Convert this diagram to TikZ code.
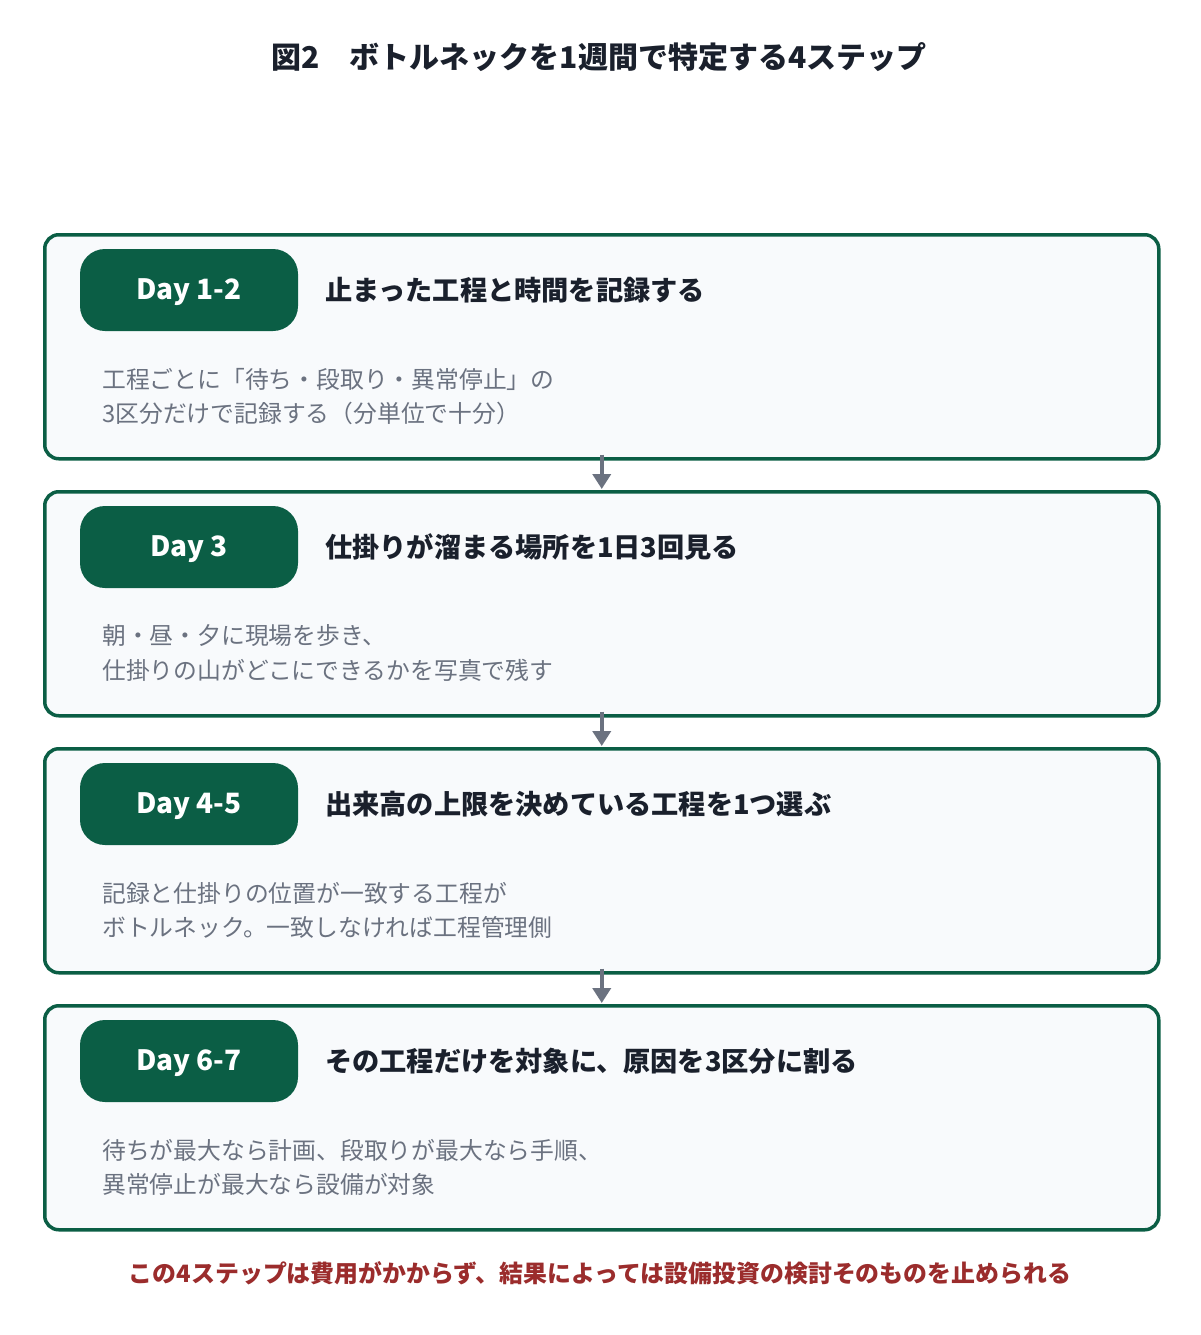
\documentclass[tikz,border=0pt]{standalone}
\usepackage{fontspec}
\setmainfont{Noto Sans CJK JP}
\usetikzlibrary{arrows.meta}
\definecolor{grn}{HTML}{0B5E45}
\definecolor{boxfill}{HTML}{F8FAFC}
\definecolor{bodygray}{HTML}{6B7280}
\definecolor{titledark}{HTML}{1A202C}
\definecolor{footred}{HTML}{9B2C2C}
\tikzset{
  stepbox/.style={draw=grn, line width=3.5pt, fill=boxfill, rounded corners=14pt,
    minimum width=1114pt, minimum height=224pt, inner sep=0pt, anchor=north west},
  daypill/.style={fill=grn, rounded corners=25pt, minimum width=218pt, minimum height=82pt,
    inner sep=0pt, text=white, font=\fontsize{28}{32}\selectfont\bfseries},
  daylabel/.style={inner sep=0pt, text=white, font=\fontsize{28}{32}\selectfont\bfseries},
  steptitle/.style={anchor=west, inner sep=0pt, text=titledark, font=\fontsize{27.2}{32}\selectfont\bfseries},
  bodytext/.style={anchor=west, inner sep=0pt, text=bodygray, font=\fontsize{23.8}{28}\selectfont},
  flowarrow/.style={draw=bodygray, line width=4pt, -{Triangle[length=15pt,width=18pt]}},
}
\begin{document}
\begin{tikzpicture}[x=1pt,y=-1pt]
\useasboundingbox[fill=white] (0,0) rectangle (1200,1335);
\node[inner sep=0pt, text=titledark, font=\fontsize{30}{34}\selectfont\bfseries] (maintitle) at (599,57) {図2　ボトルネックを1週間で特定する4ステップ};
\foreach \i/\t/\d/\ttl/\la/\lb in {
  1/233/Day 1-2/止まった工程と時間を記録する/工程ごとに「待ち・段取り・異常停止」の/3区分だけで記録する（分単位で十分）,
  2/490/Day 3/仕掛りが溜まる場所を1日3回見る/朝・昼・夕に現場を歩き、/仕掛りの山がどこにできるかを写真で残す,
  3/747/Day 4-5/出来高の上限を決めている工程を1つ選ぶ/記録と仕掛りの位置が一致する工程が/ボトルネック。一致しなければ工程管理側,
  4/1004/Day 6-7/その工程だけを対象に、原因を3区分に割る/待ちが最大なら計画、段取りが最大なら手順、/異常停止が最大なら設備が対象}{
  \node[stepbox] (box\i) at (43,\t) {};
  \node[daypill] (pill\i) at (189,\t+57) {};
  \node[daylabel] (day\i) at (189,\t+59) {\d};
  \node[steptitle] (title\i) at (325,\t+57) {\ttl};
  \node[bodytext] (bodya\i) at (102,\t+146) {\la};
  \node[bodytext] (bodyb\i) at (102,\t+180) {\lb};
}
\foreach \a/\b in {1/2,2/3,3/4}{
  \draw[flowarrow] ([yshift=6pt]box\a.south) -- ([yshift=1pt]box\b.north);
}
\node[inner sep=0pt, text=footred, font=\fontsize{23.9}{28}\selectfont\bfseries] (footer) at (600,1273) {この4ステップは費用がかからず、結果によっては設備投資の検討そのものを止められる};
\end{tikzpicture}
\end{document}
